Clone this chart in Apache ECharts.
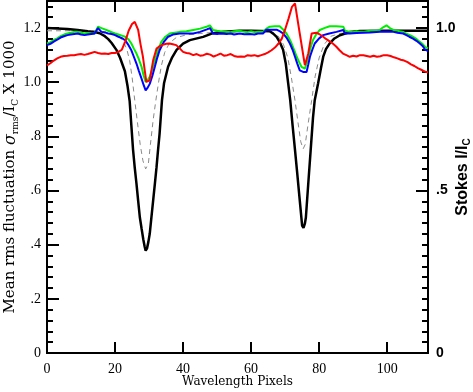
<!DOCTYPE html>
<html>
<head>
<meta charset="utf-8">
<script src="https://cdn.jsdelivr.net/npm/echarts@6/dist/echarts.min.js"></script>
<style>
  html, body { margin: 0; padding: 0; background: #fff; }
  #chart { width: 473px; height: 392px; }
</style>
</head>
<body>
<div id="chart"></div>
<script>
// rms fluctuation curves (left axis, sigma_rms/I_c x 1000), [pixel, value]
const redRms = [
  [0, 1.062], [1, 1.07], [2, 1.08], [3, 1.088], [4, 1.094], [5, 1.097], [6, 1.098], [7, 1.1], [8, 1.1], [9, 1.102],
  [10, 1.104], [11, 1.101], [12, 1.104], [13, 1.108], [14, 1.112], [15, 1.108], [16, 1.105], [17, 1.106], [18, 1.104],
  [19, 1.108], [20, 1.108], [21, 1.112], [22, 1.12], [23, 1.15], [24, 1.19], [25, 1.215], [25.8, 1.223], [26.8, 1.193],
  [27.5, 1.14], [28.2, 1.094], [29.2, 1.001], [30.2, 1.007], [31.2, 1.081], [32.2, 1.124], [33, 1.132], [34, 1.138],
  [35, 1.142], [36, 1.143], [37, 1.14], [38, 1.137], [39, 1.125], [40, 1.112], [41, 1.108], [42, 1.106], [43, 1.1],
  [44, 1.104], [45, 1.098], [46, 1.1], [47, 1.105], [48, 1.102], [49, 1.095], [50, 1.1], [51, 1.106], [52, 1.098],
  [53, 1.1], [54, 1.104], [55, 1.097], [56, 1.094], [57, 1.095], [58, 1.094], [59, 1.1], [60, 1.098], [61, 1.1],
  [62, 1.096], [63, 1.1], [64, 1.104], [65, 1.11], [66, 1.118], [67, 1.128], [68, 1.142], [69, 1.16], [70, 1.195],
  [71, 1.235], [72, 1.278], [72.9, 1.291], [74.3, 1.18], [75.8, 1.063], [76.8, 1.106], [77.8, 1.18], [79.2, 1.183],
  [80, 1.178], [81.2, 1.168], [82, 1.16], [83, 1.152], [84, 1.143], [85, 1.132], [86, 1.118], [87, 1.106], [88, 1.1],
  [89, 1.094], [90, 1.098], [91, 1.095], [92, 1.1], [93, 1.1], [94, 1.097], [95, 1.094], [96, 1.098], [97, 1.094],
  [98, 1.096], [99, 1.1], [100, 1.1], [101, 1.097], [102, 1.092], [103, 1.088], [104, 1.083], [105, 1.08], [106, 1.074],
  [107, 1.066], [108, 1.06], [109, 1.052], [110, 1.046], [111, 1.04], [112, 1.036]
]
const greenRms = [
  [0, 1.143], [1, 1.148], [2, 1.156], [3, 1.162], [4, 1.17], [5, 1.176], [6, 1.18], [7, 1.183], [8, 1.186], [9, 1.186],
  [10, 1.183], [11, 1.18], [12, 1.182], [13, 1.18], [14, 1.18], [15, 1.205], [16, 1.2], [17, 1.195], [18, 1.19],
  [19, 1.185], [20, 1.18], [21, 1.176], [22, 1.172], [23, 1.168], [24, 1.158], [24.8, 1.143], [25.5, 1.125],
  [26.3, 1.106], [27, 1.085], [27.8, 1.057], [28.4, 1.025], [29, 1.001], [29.6, 1.008], [30.2, 1.02], [31, 1.05],
  [31.7, 1.081], [32.6, 1.118], [33.6, 1.149], [34.8, 1.168], [36.1, 1.18], [37.5, 1.183], [39, 1.186], [41, 1.188],
  [43, 1.193], [45, 1.198], [46.9, 1.205], [47.9, 1.21], [48.8, 1.193], [50, 1.19], [51, 1.188], [52.8, 1.186],
  [54, 1.185], [55, 1.188], [56.7, 1.19], [58, 1.186], [59, 1.185], [60, 1.188], [61, 1.185], [62, 1.186],
  [63.5, 1.186], [64.5, 1.198], [65.5, 1.205], [67, 1.207], [68.4, 1.207], [69.4, 1.195], [70.4, 1.18], [71.2, 1.162],
  [71.9, 1.143], [72.7, 1.118], [73.4, 1.094], [74.1, 1.075], [74.8, 1.057], [75.8, 1.05], [76.3, 1.07], [76.8, 1.094],
  [77.5, 1.128], [78.2, 1.156], [79.2, 1.178], [80.2, 1.193], [81.5, 1.2], [83.1, 1.207], [85, 1.207], [87.1, 1.205],
  [87.6, 1.19], [89, 1.186], [90, 1.185], [91, 1.188], [92, 1.186], [93, 1.186], [94, 1.188], [95, 1.19], [96, 1.19],
  [97, 1.19], [97.8, 1.193], [98.8, 1.203], [99.8, 1.21], [100.8, 1.2], [101.8, 1.193], [103, 1.19], [104.7, 1.186],
  [105.5, 1.18], [106.5, 1.175], [107.6, 1.168], [108.6, 1.16], [109.6, 1.149], [110.5, 1.14], [111.1, 1.131], [112, 1.125]
]
const blueRms = [
  [0, 1.137], [1, 1.142], [2, 1.15], [3, 1.157], [4, 1.165], [5, 1.17], [6, 1.174], [7, 1.176], [8, 1.178], [9, 1.18],
  [10, 1.176], [11, 1.174], [12, 1.176], [13, 1.178], [14, 1.18], [15, 1.2], [16, 1.186], [17, 1.184], [18, 1.18],
  [19, 1.178], [20, 1.174], [21, 1.168], [22, 1.163], [23, 1.155], [23.8, 1.14], [24.8, 1.118], [25.5, 1.095],
  [26.3, 1.069], [27, 1.042], [27.8, 1.013], [28.4, 0.99], [29, 0.97], [29.6, 0.98], [30.2, 0.994], [31, 1.025],
  [31.7, 1.057], [32.4, 1.09], [33.1, 1.118], [34.3, 1.148], [35.6, 1.168], [37, 1.176], [39, 1.18], [41, 1.18],
  [43, 1.18], [45, 1.186], [47, 1.195], [47.9, 1.2], [48.8, 1.18], [50, 1.178], [51, 1.18], [52.8, 1.178], [54, 1.18],
  [55, 1.176], [56.7, 1.18], [58, 1.177], [59.6, 1.178], [61, 1.176], [62, 1.18], [63.5, 1.18], [64.5, 1.194],
  [66, 1.194], [67.5, 1.194], [68.5, 1.188], [69.4, 1.18], [70.4, 1.165], [71.4, 1.143], [72.2, 1.12], [72.9, 1.094],
  [73.6, 1.068], [74.3, 1.044], [75.3, 1.038], [76.3, 1.038], [76.8, 1.065], [77.3, 1.094], [78, 1.12], [78.7, 1.143],
  [80, 1.162], [81.2, 1.174], [83, 1.18], [85.1, 1.186], [87.1, 1.193], [87.6, 1.18], [89, 1.18], [91, 1.182],
  [93, 1.183], [95, 1.184], [97.8, 1.186], [100, 1.186], [101.8, 1.186], [103, 1.183], [104.7, 1.18], [105.5, 1.175],
  [106.5, 1.168], [107.6, 1.161], [108.6, 1.153], [109.6, 1.143], [110.5, 1.133], [111.1, 1.121], [112, 1.115]
]
// grey dashed profile (left axis units)
const dashedProfile = [
  [0, 1.19], [10, 1.19], [16, 1.188], [19, 1.183], [21, 1.17], [22.5, 1.15], [23.5, 1.12], [24.3, 1.08], [25, 1.02],
  [25.8, 0.933], [26.6, 0.85], [27.4, 0.77], [28.2, 0.71], [29, 0.68], [29.4, 0.675], [29.8, 0.7], [30.4, 0.77],
  [31.2, 0.86], [32, 0.933], [32.8, 1.0], [33.6, 1.06], [34.6, 1.11], [36, 1.145], [38, 1.165], [41, 1.175], [45, 1.18],
  [50, 1.185], [60, 1.188], [66, 1.185], [68, 1.17], [69.5, 1.14], [70.8, 1.09], [71.8, 1.02], [72.9, 0.933],
  [73.8, 0.85], [74.6, 0.78], [75.3, 0.754], [75.6, 0.748], [75.9, 0.77], [76.8, 0.85], [77.8, 0.933], [78.8, 1.02],
  [80, 1.09], [81.5, 1.14], [83.5, 1.17], [86, 1.18], [90, 1.185], [100, 1.188], [112, 1.188]
]
// Stokes I / I_c (right axis)
const stokesI = [
  [0, 1.0], [3, 0.999], [6, 0.997], [9, 0.994], [12, 0.99], [14, 0.988], [15.5, 0.984], [17, 0.975], [18, 0.966],
  [19, 0.954], [20.4, 0.933], [21.5, 0.908], [22.9, 0.867], [23.7, 0.82], [24.3, 0.775], [24.8, 0.7], [25.3, 0.625],
  [25.8, 0.57], [26.3, 0.521], [26.8, 0.468], [27.3, 0.417], [27.8, 0.383], [28.3, 0.35], [28.7, 0.328], [29, 0.315],
  [29.4, 0.322], [29.8, 0.342], [30.2, 0.367], [30.7, 0.418], [31.2, 0.469], [31.7, 0.52], [32.2, 0.572], [32.6, 0.62],
  [33.1, 0.675], [33.8, 0.778], [34.4, 0.83], [35.6, 0.881], [36.8, 0.91], [38.1, 0.933], [40, 0.952], [42, 0.963],
  [45.9, 0.973], [48.4, 0.983], [52, 0.989], [56.7, 0.992], [60, 0.992], [63, 0.991], [65.5, 0.99], [66.5, 0.983],
  [67.5, 0.973], [68.5, 0.955], [69.4, 0.933], [70.2, 0.89], [70.9, 0.83], [71.5, 0.778], [72.2, 0.7], [72.9, 0.625],
  [73.5, 0.56], [74.3, 0.47], [75, 0.392], [75.4, 0.385], [75.8, 0.398], [76.1, 0.417], [76.8, 0.521], [77.5, 0.623],
  [78.2, 0.725], [78.7, 0.778], [79.7, 0.83], [80.5, 0.875], [81.2, 0.912], [82, 0.935], [83.1, 0.953], [84.5, 0.968],
  [86.1, 0.978], [89, 0.988], [92, 0.991], [100, 0.992], [106, 0.992], [112, 0.992]
]

const xTicks = [0, 20, 40, 60, 80, 100]
const leftTickLabels = { 0: '0', 0.2: '.2', 0.4: '.4', 0.6: '.6', 0.8: '.8', 1: '1.0', 1.2: '1.2' }
const rightTickLabels = { 0: '0', 0.5: '.5', 1: '1.0' }

const chart = echarts.init(document.getElementById('chart'))
const serif = 'Liberation Serif'
const leftMax = 1.3
const rightMax = 1.3 / 1.2

function tickAxis(extra) {
  return Object.assign({
    type: 'value',
    min: 0,
    nameMoveOverlap: false,
    splitLine: { show: false },
    axisLine: { show: true, onZero: false, lineStyle: { color: '#000', width: 2 } },
    axisTick: { show: true, inside: true, length: 11, lineStyle: { color: '#000', width: 2 } },
    axisLabel: { show: false }
  }, extra)
}

chart.setOption({
  animation: false,
  backgroundColor: '#fff',
  grid: { left: 47, right: 45, top: 1, bottom: 39, outerBoundsMode: 'none' },
  xAxis: [
    tickAxis({
      position: 'bottom',
      max: 112,
      interval: 20,
      axisLabel: {
        show: true,
        color: '#000',
        fontFamily: serif,
        fontSize: 14,
        margin: 9,
        formatter: (v) => (xTicks.includes(v) ? String(v) : '')
      },
      name: 'Wavelength Pixels',
      nameLocation: 'middle',
      nameGap: 23,
      nameTextStyle: { color: '#000', fontFamily: 'DejaVu Serif', fontSize: 12 }
    }),
    tickAxis({ position: 'top', max: 112, interval: 20 })
  ],
  yAxis: [
    tickAxis({
      position: 'left',
      max: leftMax,
      interval: 0.2,
      axisTick: { show: true, inside: true, length: 12, lineStyle: { color: '#000', width: 2 } },
      axisLabel: {
        show: true,
        color: '#000',
        fontFamily: serif,
        fontSize: 14,
        margin: 6,
        formatter: (v) => leftTickLabels[Math.round(v * 10) / 10] || ''
      },
      name: 'Mean rms fluctuation {it|σ}{sub|rms}/I{sub|C} X 1000',
      nameLocation: 'middle',
      nameRotate: 90,
      nameGap: 27,
      nameTextStyle: {
        color: '#000',
        fontFamily: 'DejaVu Serif',
        fontSize: 15,
        rich: {
          it: { fontFamily: 'DejaVu Serif', fontStyle: 'italic', fontSize: 16, color: '#000' },
          sub: { fontFamily: 'DejaVu Serif', fontSize: 9, color: '#000', padding: [10, 0, 0, 0] }
        }
      }
    }),
    tickAxis({
      position: 'left',
      max: leftMax,
      interval: 0.04,
      axisTick: { show: true, inside: true, length: 6, lineStyle: { color: '#000', width: 2 } }
    }),
    tickAxis({
      position: 'right',
      max: rightMax,
      interval: 0.5,
      axisTick: { show: true, inside: true, length: 12, lineStyle: { color: '#000', width: 2 } },
      axisLabel: {
        show: true,
        color: '#000',
        fontFamily: 'Liberation Sans',
        fontWeight: 'bold',
        fontSize: 14,
        margin: 8,
        formatter: (v) => rightTickLabels[Math.round(v * 10) / 10] || ''
      },
      name: 'Stokes I/I{sub|C}',
      nameLocation: 'middle',
      nameRotate: 90,
      nameGap: 25,
      nameTextStyle: {
        color: '#000',
        fontFamily: 'Liberation Sans',
        fontWeight: 'bold',
        fontSize: 16,
        rich: {
          sub: { fontFamily: 'Liberation Sans', fontWeight: 'bold', fontSize: 10, color: '#000', padding: [9, 0, 0, 0] }
        }
      }
    }),
    tickAxis({
      position: 'right',
      max: rightMax,
      interval: 1 / 30,
      axisTick: { show: true, inside: true, length: 6, lineStyle: { color: '#000', width: 2 } }
    })
  ],
  series: [
    {
      type: 'line', yAxisIndex: 0, data: dashedProfile, symbol: 'none',
      lineStyle: { color: '#8a8a8a', width: 1, type: [5, 4] }
    },
    {
      type: 'line', yAxisIndex: 2, data: stokesI, symbol: 'none',
      lineStyle: { color: '#000', width: 2.5 }
    },
    {
      type: 'line', yAxisIndex: 0, data: greenRms, symbol: 'none',
      lineStyle: { color: '#00ee00', width: 2 }
    },
    {
      type: 'line', yAxisIndex: 0, data: blueRms, symbol: 'none',
      lineStyle: { color: '#0000ff', width: 2 }
    },
    {
      type: 'line', yAxisIndex: 0, data: redRms, symbol: 'none',
      lineStyle: { color: '#ff0000', width: 2 }
    }
  ]
})
</script>
</body>
</html>
